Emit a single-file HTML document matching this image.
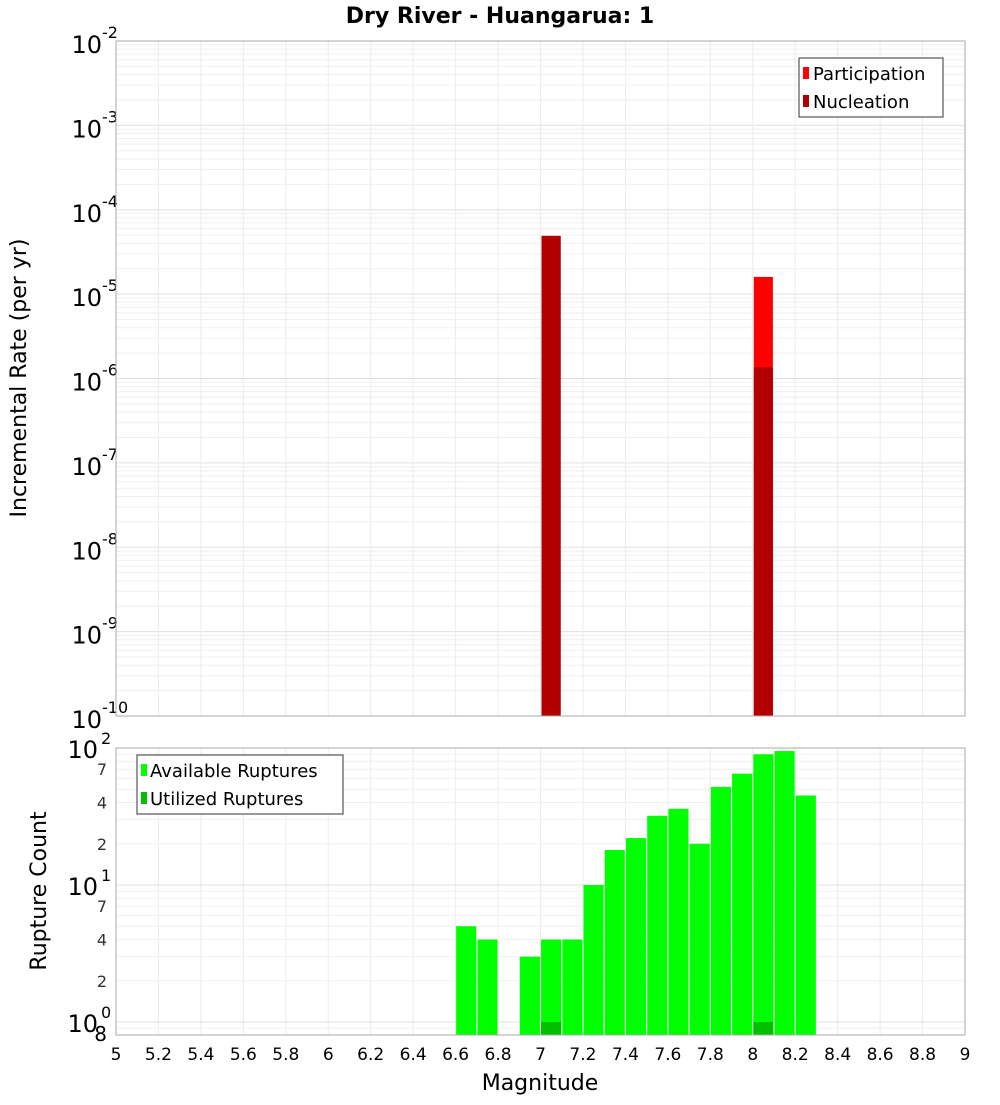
<!DOCTYPE html>
<html><head><meta charset="utf-8"><style>
body{margin:0;background:#fff;font-family:"Liberation Sans","DejaVu Sans",sans-serif}
svg text{font-family:"DejaVu Sans","Liberation Sans",sans-serif}
</style></head><body>
<svg id="chart" width="1000" height="1100" xmlns="http://www.w3.org/2000/svg">
<text x="500" y="23" text-anchor="middle" font-size="22" font-weight="bold">Dry River - Huangarua: 1</text>
<g id="topG"></g><g id="botG"></g>
<text transform="translate(26,378) rotate(-90)" text-anchor="middle" font-size="22">Incremental Rate (per yr)</text>
<text transform="translate(46,891) rotate(-90)" text-anchor="middle" font-size="22">Rupture Count</text>
<text x="540" y="1090" text-anchor="middle" font-size="22">Magnitude</text>
</svg>
<script>
const rateMags=[7.05,8.05];
const participation=[4.9e-5,1.6e-5];
const nucleation=[4.9e-5,1.36e-6];
const countMags=[6.65,6.75,6.95,7.05,7.15,7.25,7.35,7.45,7.55,7.65,7.75,7.85,7.95,8.05,8.15,8.25];
const available=[5,4,3,4,4,10,18,22,32,36,20,52,65,90,95,45];
const utilizedMags=[7.05,8.05];
const utilized=[1,1];
const xTicks=[5,5.2,5.4,5.6,5.8,6,6.2,6.4,6.6,6.8,7,7.2,7.4,7.6,7.8,8,8.2,8.4,8.6,8.8,9];
const topDecades=[-10,-9,-8,-7,-6,-5,-4,-3,-2];
const botMinorLabels=[2,4,7];

const NS='http://www.w3.org/2000/svg';
const X0=116,X1=965;
const xs=m=>X0+(m-5)/4*(X1-X0);
const T0=41,T1=716;
const yTop=v=>T1-(Math.log10(v)+10)/8*(T1-T0);
const B0=748,B1=1035,BD=137,B1e0=1022;
const yBot=v=>B1e0-Math.log10(v)*BD;
function mk(p,tag,at,txt){const e=document.createElementNS(NS,tag);for(const k in at)e.setAttribute(k,at[k]);if(txt!==undefined)e.textContent=txt;p.appendChild(e);return e;}
const topG=document.getElementById('topG'),botG=document.getElementById('botG');
mk(topG,'rect',{x:X0,y:T0,width:X1-X0,height:T1-T0,fill:'#fff'});
for(const d of topDecades){for(let k=1;k<10;k++){if(d===-2&&k>1)break;const y=yTop(k*Math.pow(10,d));const l=mk(topG,'line',{x1:X0,x2:X1,y1:y,y2:y,stroke:k===1?'#e0e0e0':'#efefef','stroke-width':1});

}
const y=yTop(Math.pow(10,d));const t=mk(topG,'text',{x:102,y:y+12,'text-anchor':'end','font-size':24});t.textContent='10';


const s=mk(topG,'text',{x:102,y:y-3,'font-size':16},String(d));

}
for(const m of xTicks){const l=mk(topG,'line',{x1:xs(m),x2:xs(m),y1:T0,y2:T1,stroke:'#ebebeb'});


const l2=mk(botG,'line',{x1:xs(m),x2:xs(m),y1:B0,y2:B1,stroke:'#ebebeb'});


const t=mk(botG,'text',{x:xs(m),y:1060,'text-anchor':'middle','font-size':17},String(m));

}
const bw=(X1-X0)/4*0.09;
rateMags.forEach((m,i)=>{const r=mk(topG,'rect',{x:xs(m)-bw/2,y:yTop(participation[i]),width:bw,height:T1-yTop(participation[i]),fill:'#ff0000'});


const n=mk(topG,'rect',{x:xs(m)-bw/2,y:yTop(nucleation[i]),width:bw,height:T1-yTop(nucleation[i]),fill:'#b20000'});

});
mk(topG,'rect',{x:X0,y:T0,width:X1-X0,height:T1-T0,fill:'none',stroke:'#aaa'});
const lg=mk(topG,'g',{});


mk(lg,'rect',{x:799,y:58,width:144,height:59,fill:'#fff',stroke:'#333'});
mk(lg,'rect',{x:803,y:67,width:6,height:12,fill:'#ff0000'});
mk(lg,'text',{x:813,y:80,'font-size':18},'Participation');
mk(lg,'rect',{x:803,y:95,width:6,height:12,fill:'#b20000'});
mk(lg,'text',{x:813,y:108,'font-size':18},'Nucleation');
for(let d=-1;d<2;d++){for(let k=1;k<10;k++){const v=k*Math.pow(10,d);const y=yBot(v);if(y>B1||y<B0)continue;
const l=mk(botG,'line',{x1:X0,x2:X1,y1:y,y2:y,stroke:k===1?'#e0e0e0':'#efefef'});

}}
for(let d=0;d<3;d++){const y=yBot(Math.pow(10,d));const t=mk(botG,'text',{x:98,y:y+10,'text-anchor':'end','font-size':24},'10');


mk(botG,'text',{x:101,y:y-4,'font-size':16},String(d));
if(d<2)for(const k of botMinorLabels){const yy=yBot(k*Math.pow(10,d));const tt=mk(botG,'text',{x:107,y:yy+6,'text-anchor':'end','font-size':16,fill:'#333'},String(k));

}}
mk(botG,'text',{x:107,y:1041,'text-anchor':'end','font-size':20},'8');
countMags.forEach((m,i)=>{const y=yBot(available[i]);const r=mk(botG,'rect',{x:xs(m)-bw/2-0.5,y:y,width:bw+1,height:B1-y,fill:'#00ff00'});

});
utilizedMags.forEach((m,i)=>{const y=yBot(utilized[i]);const r=mk(botG,'rect',{x:xs(m)-bw/2-0.5,y:y,width:bw+1,height:B1-y,fill:'#00c000'});

});
mk(botG,'rect',{x:X0,y:B0,width:X1-X0,height:B1-B0,fill:'none',stroke:'#aaa'});
const lb=mk(botG,'g',{});


mk(lb,'rect',{x:137,y:755,width:206,height:59,fill:'#fff',stroke:'#333'});
mk(lb,'rect',{x:141,y:764,width:6,height:12,fill:'#00ff00'});
mk(lb,'text',{x:150,y:777,'font-size':18},'Available Ruptures');
mk(lb,'rect',{x:141,y:792,width:6,height:12,fill:'#00c000'});
mk(lb,'text',{x:150,y:805,'font-size':18},'Utilized Ruptures');
</script>
</body></html>
